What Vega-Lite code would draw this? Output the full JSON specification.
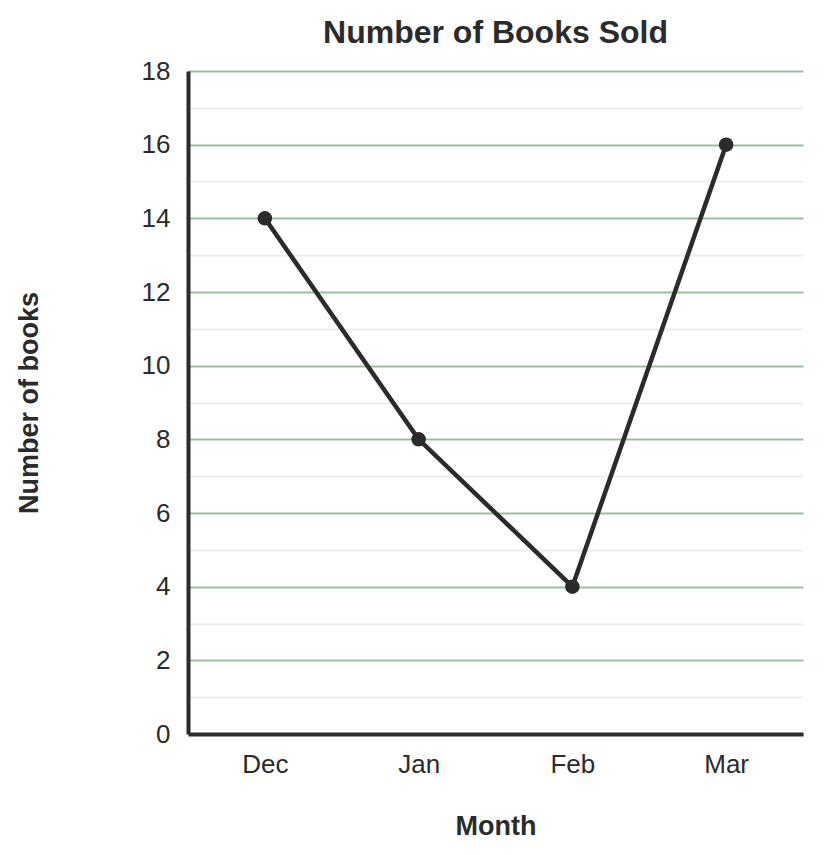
{
  "$schema": "https://vega.github.io/schema/vega-lite/v6.json",
  "autosize": {"type": "none"},
  "width": 615,
  "height": 663,
  "padding": {"left": 188, "top": 71, "right": 21, "bottom": 121},
  "background": "white",
  "config": {
    "view": {"stroke": null},
    "font": "Liberation Sans"
  },
  "title": {
    "text": "Number of Books Sold",
    "fontSize": 32,
    "fontWeight": "bold",
    "color": "#2b2b2b",
    "anchor": "middle",
    "offset": 8
  },
  "data": {
    "values": [
      {"month": "Dec", "books": 14},
      {"month": "Jan", "books": 8},
      {"month": "Feb", "books": 4},
      {"month": "Mar", "books": 16}
    ]
  },
  "mark": {
    "type": "line",
    "color": "#2b2b2b",
    "strokeWidth": 4.5,
    "point": {"filled": true, "size": 210, "color": "#2b2b2b"}
  },
  "encoding": {
    "x": {
      "field": "month",
      "type": "ordinal",
      "sort": null,
      "scale": {"type": "point", "padding": 0.5},
      "axis": {
        "title": "Month",
        "titleFontSize": 27,
        "titleFontWeight": "bold",
        "titleColor": "#2b2b2b",
        "titlePadding": 36,
        "labelAngle": 0,
        "labelFontSize": 26,
        "labelColor": "#2b2b2b",
        "labelPadding": 17,
        "ticks": false,
        "grid": false,
        "domainColor": "#2b2b2b",
        "domainWidth": 4
      }
    },
    "y": {
      "field": "books",
      "type": "quantitative",
      "scale": {"domain": [0, 18], "nice": false},
      "axis": {
        "title": "Number of books",
        "titleFontSize": 27,
        "titleFontWeight": "bold",
        "titleColor": "#2b2b2b",
        "titlePadding": 98,
        "values": [0, 1, 2, 3, 4, 5, 6, 7, 8, 9, 10, 11, 12, 13, 14, 15, 16, 17, 18],
        "labelExpr": "datum.value % 2 === 0 ? datum.label : ''",
        "labelFontSize": 26,
        "labelColor": "#2b2b2b",
        "labelPadding": 18,
        "ticks": false,
        "grid": true,
        "gridWidth": 2,
        "gridColor": {
          "condition": {"test": "datum.value % 2 === 0", "value": "#9cbf9a"},
          "value": "#ebeeeb"
        },
        "domainColor": "#2b2b2b",
        "domainWidth": 4
      }
    }
  }
}
